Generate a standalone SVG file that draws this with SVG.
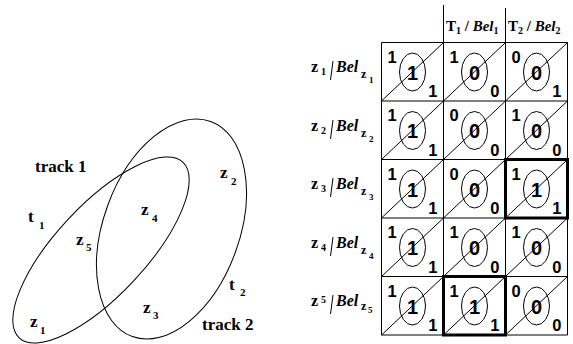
<svg xmlns="http://www.w3.org/2000/svg" width="573" height="344" viewBox="0 0 573 344">
<style>
.tm{font-family:"Liberation Serif","Times New Roman",serif;font-weight:bold;fill:#000}
.lb{font-size:17px}
.sb{font-size:11px}
.it{font-style:italic}
.ar{font-family:"Liberation Sans",Arial,sans-serif;font-weight:bold;fill:#000}
.cn{font-size:16.5px}
.ce{font-size:20px;text-anchor:middle}
.br{text-anchor:end}
.ln{stroke:#000;stroke-width:1;fill:none}
.el{stroke:#000;stroke-width:1;fill:none}
.thick{stroke:#000;stroke-width:3;fill:none}
</style>
<rect width="573" height="344" fill="#fff"/>

<!-- Venn diagram -->
<g id="track1">
<ellipse class="el" cx="101" cy="250" rx="120" ry="45" transform="rotate(-47 101 250)"/>
</g>
<g id="track2">
<ellipse class="el" cx="171.5" cy="229" rx="68" ry="114.5" transform="rotate(20 171.5 229)"/>
</g>
<g id="venn-labels">
<text class="tm lb" x="35" y="172">track 1</text>
<text class="tm lb" x="202" y="330">track 2</text>
<text class="tm lb" x="28" y="222">t</text><text class="tm sb" x="39" y="229">1</text>
<text class="tm lb" x="229" y="290">t</text><text class="tm sb" x="240" y="296">2</text>
<text class="tm lb" x="220" y="178">z</text><text class="tm sb" x="231" y="185">2</text>
<text class="tm lb" x="141" y="215">z</text><text class="tm sb" x="152" y="222">4</text>
<text class="tm lb" x="76" y="245">z</text><text class="tm sb" x="86" y="251">5</text>
<text class="tm lb" x="143" y="313">z</text><text class="tm sb" x="153" y="319">3</text>
<text class="tm lb" x="30" y="327">z</text><text class="tm sb" x="40" y="334">1</text>
</g>

<!-- Table header -->
<g id="header">
<line class="ln" x1="443.5" y1="5" x2="443.5" y2="42.5"/>
<line class="ln" x1="505.5" y1="8" x2="505.5" y2="42.5"/>
<text class="tm" x="446" y="31" font-size="15">T<tspan font-size="10" dy="3">1</tspan><tspan dy="-3"> / </tspan><tspan class="it">Bel</tspan><tspan font-size="10" dy="3">1</tspan></text>
<text class="tm" x="508" y="31" font-size="15">T<tspan font-size="10" dy="3">2</tspan><tspan dy="-3"> / </tspan><tspan class="it">Bel</tspan><tspan font-size="10" dy="3">2</tspan></text>
</g>

<!-- Row labels -->
<g id="row-labels">
<g id="label-z1">
<text class="tm" x="311" y="72" font-size="16">z</text><text class="tm" x="321" y="75" font-size="10">1</text>
<line class="ln" x1="333" y1="61" x2="330.5" y2="80"/>
<text class="tm it" x="336" y="72" font-size="16">Bel</text><text class="tm" x="361" y="78" font-size="12">z</text><text class="tm" x="369" y="83" font-size="9">1</text>
</g>
<g id="label-z2">
<text class="tm" x="311" y="131" font-size="16">z</text><text class="tm" x="321" y="134" font-size="10">2</text>
<line class="ln" x1="333" y1="120" x2="330.5" y2="139"/>
<text class="tm it" x="336" y="131" font-size="16">Bel</text><text class="tm" x="361" y="137" font-size="12">z</text><text class="tm" x="369" y="142" font-size="9">2</text>
</g>
<g id="label-z3">
<text class="tm" x="311" y="189" font-size="16">z</text><text class="tm" x="321" y="192" font-size="10">3</text>
<line class="ln" x1="333" y1="178" x2="330.5" y2="197"/>
<text class="tm it" x="336" y="189" font-size="16">Bel</text><text class="tm" x="361" y="195" font-size="12">z</text><text class="tm" x="369" y="200" font-size="9">3</text>
</g>
<g id="label-z4">
<text class="tm" x="311" y="248" font-size="16">z</text><text class="tm" x="321" y="251" font-size="10">4</text>
<line class="ln" x1="333" y1="237" x2="330.5" y2="256"/>
<text class="tm it" x="336" y="248" font-size="16">Bel</text><text class="tm" x="361" y="254" font-size="12">z</text><text class="tm" x="369" y="259" font-size="9">4</text>
</g>
<g id="label-z5">
<text class="tm" x="311" y="306" font-size="16">z</text><text class="tm" x="321" y="303" font-size="10">5</text>
<line class="ln" x1="333" y1="295" x2="330.5" y2="314"/>
<text class="tm it" x="336" y="306" font-size="16">Bel</text><text class="tm" x="361" y="310" font-size="12">z</text><text class="tm" x="368" y="313" font-size="9">5</text>
</g>
</g>

<!-- Grid -->
<g id="grid">
<line class="ln" x1="381.5" y1="42.5" x2="567.5" y2="42.5" stroke-width="2"/>
<line class="ln" x1="381.5" y1="101" x2="567.5" y2="101" stroke-width="1.5"/>
<line class="ln" x1="381.5" y1="159.5" x2="567.5" y2="159.5"/>
<line class="ln" x1="381.5" y1="218" x2="567.5" y2="218"/>
<line class="ln" x1="381.5" y1="276.5" x2="567.5" y2="276.5"/>
<line class="ln" x1="381.5" y1="335" x2="567.5" y2="335"/>
<line class="ln" x1="381.5" y1="42.5" x2="381.5" y2="335" stroke-width="1.5"/>
<line class="ln" x1="443.5" y1="42.5" x2="443.5" y2="335"/>
<line class="ln" x1="505.5" y1="42.5" x2="505.5" y2="335"/>
<line class="ln" x1="567.5" y1="42.5" x2="567.5" y2="335" stroke-width="1.5"/>
</g>

<!-- Cells -->
<g id="cell-1-1" transform="translate(381.5 42.5)">
<line class="ln" x1="0" y1="58.5" x2="62" y2="0"/><ellipse class="el" cx="31" cy="29.5" rx="13" ry="19"/>
<text class="ar cn" x="6" y="20">1</text><text class="ar ce" x="31" y="37">1</text><text class="ar cn br" x="56" y="54.5">1</text>
</g>
<g id="cell-1-2" transform="translate(443.5 42.5)">
<line class="ln" x1="0" y1="58.5" x2="62" y2="0"/><ellipse class="el" cx="31" cy="29.5" rx="13" ry="19"/>
<text class="ar cn" x="6" y="20">1</text><text class="ar ce" x="31" y="37">0</text><text class="ar cn br" x="56" y="54.5">0</text>
</g>
<g id="cell-1-3" transform="translate(505.5 42.5)">
<line class="ln" x1="0" y1="58.5" x2="62" y2="0"/><ellipse class="el" cx="31" cy="29.5" rx="13" ry="19"/>
<text class="ar cn" x="6" y="20">0</text><text class="ar ce" x="31" y="37">0</text><text class="ar cn br" x="56" y="54.5">1</text>
</g>

<g id="cell-2-1" transform="translate(381.5 101)">
<line class="ln" x1="0" y1="58.5" x2="62" y2="0"/><ellipse class="el" cx="31" cy="29.5" rx="13" ry="19"/>
<text class="ar cn" x="6" y="20">1</text><text class="ar ce" x="31" y="37">1</text><text class="ar cn br" x="56" y="54.5">1</text>
</g>
<g id="cell-2-2" transform="translate(443.5 101)">
<line class="ln" x1="0" y1="58.5" x2="62" y2="0"/><ellipse class="el" cx="31" cy="29.5" rx="13" ry="19"/>
<text class="ar cn" x="6" y="20">0</text><text class="ar ce" x="31" y="37">0</text><text class="ar cn br" x="56" y="54.5">0</text>
</g>
<g id="cell-2-3" transform="translate(505.5 101)">
<line class="ln" x1="0" y1="58.5" x2="62" y2="0"/><ellipse class="el" cx="31" cy="29.5" rx="13" ry="19"/>
<text class="ar cn" x="6" y="20">1</text><text class="ar ce" x="31" y="37">0</text><text class="ar cn br" x="56" y="54.5">0</text>
</g>

<g id="cell-3-1" transform="translate(381.5 159.5)">
<line class="ln" x1="0" y1="58.5" x2="62" y2="0"/><ellipse class="el" cx="31" cy="29.5" rx="13" ry="19"/>
<text class="ar cn" x="6" y="20">1</text><text class="ar ce" x="31" y="37">1</text><text class="ar cn br" x="56" y="54.5">1</text>
</g>
<g id="cell-3-2" transform="translate(443.5 159.5)">
<line class="ln" x1="0" y1="58.5" x2="62" y2="0"/><ellipse class="el" cx="31" cy="29.5" rx="13" ry="19"/>
<text class="ar cn" x="6" y="20">0</text><text class="ar ce" x="31" y="37">0</text><text class="ar cn br" x="56" y="54.5">0</text>
</g>
<g id="cell-3-3" transform="translate(505.5 159.5)">
<rect class="thick" x="0" y="0" width="62" height="58.5"/>
<line class="ln" x1="0" y1="58.5" x2="62" y2="0"/><ellipse class="el" cx="31" cy="29.5" rx="13" ry="19"/>
<text class="ar cn" x="6" y="20">1</text><text class="ar ce" x="31" y="37">1</text><text class="ar cn br" x="56" y="54.5">1</text>
</g>

<g id="cell-4-1" transform="translate(381.5 218)">
<line class="ln" x1="0" y1="58.5" x2="62" y2="0"/><ellipse class="el" cx="31" cy="29.5" rx="13" ry="19"/>
<text class="ar cn" x="6" y="20">1</text><text class="ar ce" x="31" y="37">1</text><text class="ar cn br" x="56" y="54.5">1</text>
</g>
<g id="cell-4-2" transform="translate(443.5 218)">
<line class="ln" x1="0" y1="58.5" x2="62" y2="0"/><ellipse class="el" cx="31" cy="29.5" rx="13" ry="19"/>
<text class="ar cn" x="6" y="20">1</text><text class="ar ce" x="31" y="37">0</text><text class="ar cn br" x="56" y="54.5">0</text>
</g>
<g id="cell-4-3" transform="translate(505.5 218)">
<line class="ln" x1="0" y1="58.5" x2="62" y2="0"/><ellipse class="el" cx="31" cy="29.5" rx="13" ry="19"/>
<text class="ar cn" x="6" y="20">1</text><text class="ar ce" x="31" y="37">0</text><text class="ar cn br" x="56" y="54.5">0</text>
</g>

<g id="cell-5-1" transform="translate(381.5 276.5)">
<line class="ln" x1="0" y1="58.5" x2="62" y2="0"/><ellipse class="el" cx="31" cy="29.5" rx="13" ry="19"/>
<text class="ar cn" x="6" y="20">1</text><text class="ar ce" x="31" y="37">1</text><text class="ar cn br" x="56" y="54.5">1</text>
</g>
<g id="cell-5-2" transform="translate(443.5 276.5)">
<rect class="thick" x="0" y="0" width="62" height="58.5"/>
<line class="ln" x1="0" y1="58.5" x2="62" y2="0"/><ellipse class="el" cx="31" cy="29.5" rx="13" ry="19"/>
<text class="ar cn" x="6" y="20">1</text><text class="ar ce" x="31" y="37">1</text><text class="ar cn br" x="56" y="54.5">1</text>
</g>
<g id="cell-5-3" transform="translate(505.5 276.5)">
<line class="ln" x1="0" y1="58.5" x2="62" y2="0"/><ellipse class="el" cx="31" cy="29.5" rx="13" ry="19"/>
<text class="ar cn" x="6" y="20">0</text><text class="ar ce" x="31" y="37">0</text><text class="ar cn br" x="56" y="54.5">0</text>
</g>
</svg>
